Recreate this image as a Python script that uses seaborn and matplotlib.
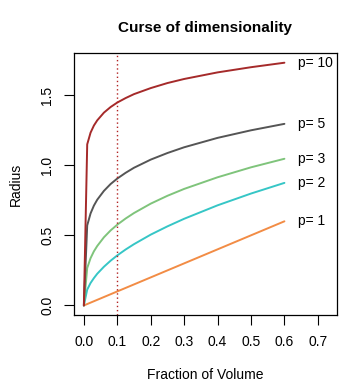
import pandas as pd
import seaborn as sns
import matplotlib
matplotlib.use("Agg")
import matplotlib.pyplot as plt

# fraction of volume (x) and radius
frac = [0, 0.01, 0.02, 0.03, 0.04, 0.06, 0.08, 0.1, 0.125, 0.15, 0.2, 0.25, 0.3, 0.4, 0.5, 0.6]
r_p1 = [0, 0.01, 0.02, 0.03, 0.04, 0.06, 0.08, 0.1, 0.125, 0.15, 0.2, 0.25, 0.3, 0.4, 0.5, 0.6]
r_p2 = [0, 0.113, 0.160, 0.195, 0.226, 0.276, 0.319, 0.357, 0.399, 0.437, 0.505, 0.564, 0.618, 0.714, 0.798, 0.874]
r_p3 = [0, 0.267, 0.337, 0.386, 0.424, 0.486, 0.535, 0.576, 0.620, 0.659, 0.726, 0.782, 0.831, 0.914, 0.985, 1.046]
r_p5 = [0, 0.571, 0.656, 0.712, 0.754, 0.817, 0.866, 0.905, 0.946, 0.982, 1.040, 1.087, 1.128, 1.195, 1.249, 1.295]
r_p10 = [0, 1.149, 1.232, 1.283, 1.320, 1.375, 1.415, 1.447, 1.479, 1.507, 1.550, 1.586, 1.615, 1.662, 1.699, 1.731]

dims = ["p= 1", "p= 2", "p= 3", "p= 5", "p= 10"]
colors = ["#F28C45", "#36C6C6", "#7FC47B", "#555555", "#A52A2A"]

df = pd.concat([
    pd.DataFrame({"frac": frac, "radius": r, "p": d})
    for d, r in zip(dims, [r_p1, r_p2, r_p3, r_p5, r_p10])
])

sns.set_style("ticks")
plt.rcParams["font.family"] = ["Liberation Sans", "DejaVu Sans"]
plt.rcParams["text.color"] = "black"
plt.rcParams["axes.labelcolor"] = "black"
plt.rcParams["xtick.color"] = "black"
plt.rcParams["ytick.color"] = "black"

fig = plt.figure(figsize=(3.55, 3.9), dpi=100)
ax = fig.add_axes([0.208, 0.192, 0.741, 0.672])

sns.lineplot(data=df, x="frac", y="radius", hue="p", hue_order=dims,
             palette=colors, linewidth=1.4, legend=False, ax=ax, sort=False)

ax.axvline(0.1, color="#B22222", linestyle=(0, (1, 2)), linewidth=1.0)

# curve labels at the right end
for d, r in zip(dims, [r_p1, r_p2, r_p3, r_p5, r_p10]):
    ax.text(0.64, r[-1], d, fontsize=10, va="center", ha="left", color="black")

ax.set_xlim(-0.03, 0.757)
ax.set_ylim(-0.069, 1.80)
ax.set_xticks([0, 0.1, 0.2, 0.3, 0.4, 0.5, 0.6, 0.7])
ax.set_yticks([0, 0.5, 1.0, 1.5])
ax.set_xticklabels(["0.0", "0.1", "0.2", "0.3", "0.4", "0.5", "0.6", "0.7"])
ax.set_yticklabels(["0.0", "0.5", "1.0", "1.5"], rotation=90, va="center")
ax.tick_params(axis="both", length=7, width=0.8, labelsize=10, pad=7,
               color="black", labelcolor="black")

for s in ax.spines.values():
    s.set_visible(True)
    s.set_color("black")
    s.set_linewidth(0.9)

ax.set_xlabel("Fraction of Volume", fontsize=10)
ax.set_ylabel("Radius", fontsize=10)
ax.xaxis.set_label_coords(0.5, -0.2)
ax.yaxis.set_label_coords(-0.195, 0.5)
ax.set_title("Curse of dimensionality", fontsize=11, fontweight="bold", pad=15)

fig.savefig("out.png", dpi=100)
